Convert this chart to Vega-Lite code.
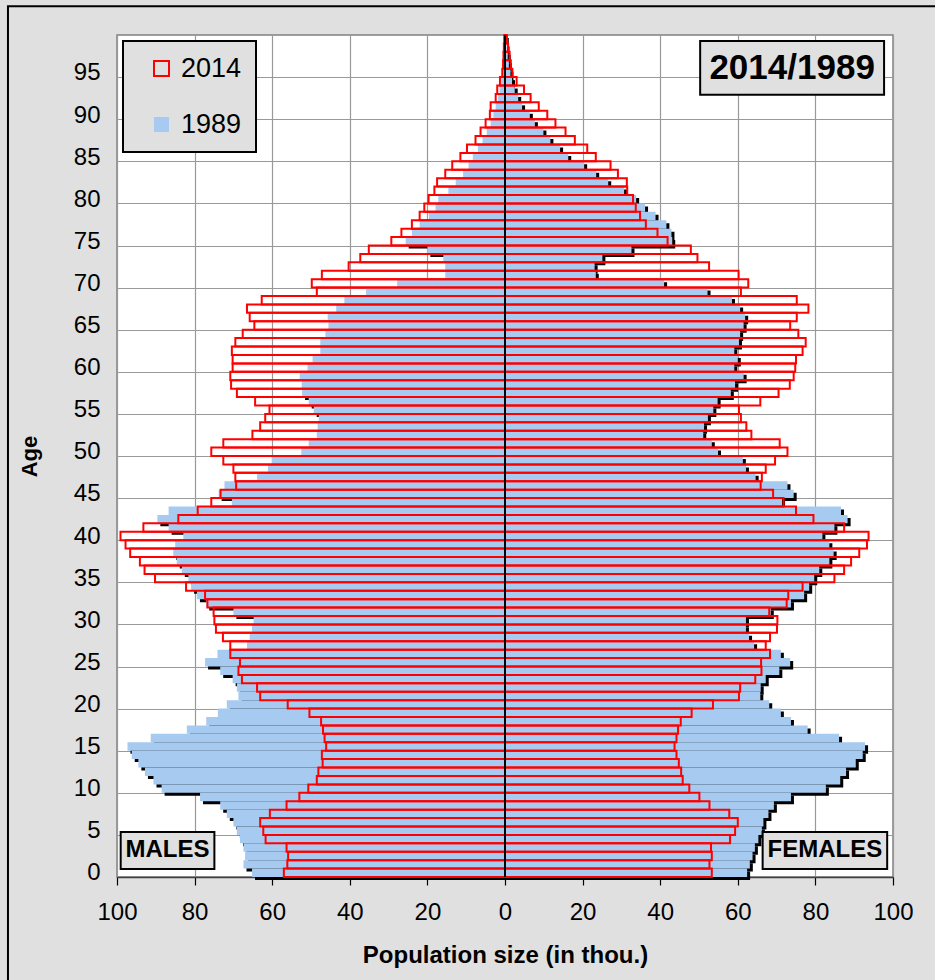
{
"$schema":"https://vega.github.io/schema/vega-lite/v6.json",
"width":776,"height":842,
"autosize":{"type":"none"},
"padding":{"left":117,"top":35,"right":42,"bottom":103},
"background":"#e0e0e0",
"config":{
 "view":{"fill":"white","stroke":"#808080","strokeWidth":1.5},
 "font":"Liberation Sans",
 "axis":{"labelFont":"Liberation Sans","titleFont":"Liberation Sans","labelColor":"black","titleColor":"black","gridColor":"#999999","gridWidth":1.2,"labelFlush":false}
},
"datasets":{"pop":[
{"age":0,"year":"1989","M":-65.2,"F":62.4},{"age":0,"year":"2014","M":-57.0,"F":53.3},
{"age":1,"year":"1989","M":-67.4,"F":63.1},{"age":1,"year":"2014","M":-56.1,"F":52.7},
{"age":2,"year":"1989","M":-67.0,"F":63.8},{"age":2,"year":"2014","M":-55.9,"F":53.3},
{"age":3,"year":"1989","M":-67.4,"F":64.4},{"age":3,"year":"2014","M":-56.3,"F":53.1},
{"age":4,"year":"1989","M":-68.3,"F":65.3},{"age":4,"year":"2014","M":-61.7,"F":58.0},
{"age":5,"year":"1989","M":-69.1,"F":66.2},{"age":5,"year":"2014","M":-62.3,"F":59.3},
{"age":6,"year":"1989","M":-70.0,"F":66.6},{"age":6,"year":"2014","M":-63.1,"F":60.0},
{"age":7,"year":"1989","M":-71.7,"F":67.9},{"age":7,"year":"2014","M":-60.6,"F":57.8},
{"age":8,"year":"1989","M":-73.4,"F":69.3},{"age":8,"year":"2014","M":-56.3,"F":52.7},
{"age":9,"year":"1989","M":-78.6,"F":73.7},{"age":9,"year":"2014","M":-53.0,"F":50.1},
{"age":10,"year":"1989","M":-88.5,"F":82.7},{"age":10,"year":"2014","M":-50.7,"F":47.5},
{"age":11,"year":"1989","M":-90.6,"F":86.4},{"age":11,"year":"2014","M":-48.5,"F":45.8},
{"age":12,"year":"1989","M":-92.8,"F":87.9},{"age":12,"year":"2014","M":-48.1,"F":45.4},
{"age":13,"year":"1989","M":-94.5,"F":90.4},{"age":13,"year":"2014","M":-47.0,"F":44.8},
{"age":14,"year":"1989","M":-96.2,"F":92.2},{"age":14,"year":"2014","M":-47.2,"F":44.2},
{"age":15,"year":"1989","M":-97.3,"F":92.8},{"age":15,"year":"2014","M":-46.1,"F":43.7},
{"age":16,"year":"1989","M":-91.3,"F":86.1},{"age":16,"year":"2014","M":-46.5,"F":44.2},
{"age":17,"year":"1989","M":-82.0,"F":78.0},{"age":17,"year":"2014","M":-46.9,"F":44.6},
{"age":18,"year":"1989","M":-77.0,"F":73.7},{"age":18,"year":"2014","M":-47.4,"F":45.3},
{"age":19,"year":"1989","M":-74.0,"F":71.1},{"age":19,"year":"2014","M":-50.4,"F":48.1},
{"age":20,"year":"1989","M":-71.7,"F":68.1},{"age":20,"year":"2014","M":-56.0,"F":53.6},
{"age":21,"year":"1989","M":-68.7,"F":65.8},{"age":21,"year":"2014","M":-63.1,"F":60.3},
{"age":22,"year":"1989","M":-69.1,"F":65.9},{"age":22,"year":"2014","M":-63.9,"F":60.6},
{"age":23,"year":"1989","M":-70.2,"F":67.2},{"age":23,"year":"2014","M":-67.8,"F":64.5},
{"age":24,"year":"1989","M":-73.4,"F":70.7},{"age":24,"year":"2014","M":-68.7,"F":66.1},
{"age":25,"year":"1989","M":-77.3,"F":73.5},{"age":25,"year":"2014","M":-68.3,"F":66.0},
{"age":26,"year":"1989","M":-74.1,"F":71.1},{"age":26,"year":"2014","M":-70.8,"F":68.3},
{"age":27,"year":"1989","M":-66.5,"F":64.2},{"age":27,"year":"2014","M":-70.8,"F":67.2},
{"age":28,"year":"1989","M":-65.8,"F":62.9},{"age":28,"year":"2014","M":-72.7,"F":68.3},
{"age":29,"year":"1989","M":-65.2,"F":62.1},{"age":29,"year":"2014","M":-74.5,"F":70.1},
{"age":30,"year":"1989","M":-64.8,"F":62.1},{"age":30,"year":"2014","M":-74.9,"F":70.2},
{"age":31,"year":"1989","M":-70.0,"F":68.5},{"age":31,"year":"2014","M":-75.1,"F":68.1},
{"age":32,"year":"1989","M":-77.0,"F":73.7},{"age":32,"year":"2014","M":-76.7,"F":72.6},
{"age":33,"year":"1989","M":-79.4,"F":77.1},{"age":33,"year":"2014","M":-77.3,"F":73.0},
{"age":34,"year":"1989","M":-80.9,"F":78.4},{"age":34,"year":"2014","M":-82.2,"F":76.7},
{"age":35,"year":"1989","M":-81.6,"F":79.7},{"age":35,"year":"2014","M":-90.2,"F":84.9},
{"age":36,"year":"1989","M":-83.3,"F":81.0},{"age":36,"year":"2014","M":-92.9,"F":87.4},
{"age":37,"year":"1989","M":-84.6,"F":83.6},{"age":37,"year":"2014","M":-94.1,"F":89.2},
{"age":38,"year":"1989","M":-85.5,"F":84.7},{"age":38,"year":"2014","M":-96.6,"F":91.3},
{"age":39,"year":"1989","M":-85.0,"F":83.6},{"age":39,"year":"2014","M":-97.8,"F":93.3},
{"age":40,"year":"1989","M":-82.9,"F":81.8},{"age":40,"year":"2014","M":-99.1,"F":93.7},
{"age":41,"year":"1989","M":-86.7,"F":84.9},{"age":41,"year":"2014","M":-93.2,"F":87.4},
{"age":42,"year":"1989","M":-89.6,"F":88.3},{"age":42,"year":"2014","M":-84.2,"F":79.5},
{"age":43,"year":"1989","M":-86.7,"F":86.6},{"age":43,"year":"2014","M":-79.2,"F":75.0},
{"age":44,"year":"1989","M":-70.4,"F":71.4},{"age":44,"year":"2014","M":-75.7,"F":71.8},
{"age":45,"year":"1989","M":-73.8,"F":74.4},{"age":45,"year":"2014","M":-73.3,"F":69.1},
{"age":46,"year":"1989","M":-72.3,"F":72.8},{"age":46,"year":"2014","M":-69.3,"F":65.9},
{"age":47,"year":"1989","M":-63.9,"F":64.6},{"age":47,"year":"2014","M":-69.5,"F":66.2},
{"age":48,"year":"1989","M":-61.1,"F":62.1},{"age":48,"year":"2014","M":-70.0,"F":67.2},
{"age":49,"year":"1989","M":-60.1,"F":61.3},{"age":49,"year":"2014","M":-72.6,"F":69.6},
{"age":50,"year":"1989","M":-52.5,"F":54.9},{"age":50,"year":"2014","M":-75.7,"F":72.8},
{"age":51,"year":"1989","M":-50.6,"F":53.3},{"age":51,"year":"2014","M":-72.6,"F":70.8},
{"age":52,"year":"1989","M":-48.5,"F":51.1},{"age":52,"year":"2014","M":-65.1,"F":63.5},
{"age":53,"year":"1989","M":-48.3,"F":51.3},{"age":53,"year":"2014","M":-63.1,"F":62.2},
{"age":54,"year":"1989","M":-48.0,"F":52.3},{"age":54,"year":"2014","M":-61.8,"F":60.8},
{"age":55,"year":"1989","M":-49.3,"F":53.7},{"age":55,"year":"2014","M":-60.7,"F":60.3},
{"age":56,"year":"1989","M":-50.6,"F":54.8},{"age":56,"year":"2014","M":-64.4,"F":65.8},
{"age":57,"year":"1989","M":-52.3,"F":58.2},{"age":57,"year":"2014","M":-69.1,"F":70.5},
{"age":58,"year":"1989","M":-52.4,"F":59.3},{"age":58,"year":"2014","M":-70.6,"F":73.4},
{"age":59,"year":"1989","M":-52.9,"F":61.5},{"age":59,"year":"2014","M":-70.8,"F":74.4},
{"age":60,"year":"1989","M":-50.9,"F":59.1},{"age":60,"year":"2014","M":-70.2,"F":74.8},
{"age":61,"year":"1989","M":-49.6,"F":60.0},{"age":61,"year":"2014","M":-70.2,"F":75.0},
{"age":62,"year":"1989","M":-47.6,"F":59.1},{"age":62,"year":"2014","M":-70.4,"F":76.7},
{"age":63,"year":"1989","M":-47.6,"F":60.3},{"age":63,"year":"2014","M":-69.5,"F":77.5},
{"age":64,"year":"1989","M":-46.3,"F":60.6},{"age":64,"year":"2014","M":-67.6,"F":75.6},
{"age":65,"year":"1989","M":-45.5,"F":61.5},{"age":65,"year":"2014","M":-64.6,"F":73.5},
{"age":66,"year":"1989","M":-45.7,"F":61.9},{"age":66,"year":"2014","M":-65.8,"F":75.2},
{"age":67,"year":"1989","M":-43.5,"F":60.6},{"age":67,"year":"2014","M":-66.5,"F":78.2},
{"age":68,"year":"1989","M":-41.4,"F":58.5},{"age":68,"year":"2014","M":-62.7,"F":75.2},
{"age":69,"year":"1989","M":-35.8,"F":52.2},{"age":69,"year":"2014","M":-48.5,"F":60.8},
{"age":70,"year":"1989","M":-27.8,"F":41.0},{"age":70,"year":"2014","M":-49.8,"F":62.7},
{"age":71,"year":"1989","M":-15.4,"F":23.4},{"age":71,"year":"2014","M":-47.2,"F":60.2},
{"age":72,"year":"1989","M":-15.4,"F":23.1},{"age":72,"year":"2014","M":-40.3,"F":52.6},
{"age":73,"year":"1989","M":-15.9,"F":25.1},{"age":73,"year":"2014","M":-37.3,"F":49.6},
{"age":74,"year":"1989","M":-20.0,"F":32.6},{"age":74,"year":"2014","M":-35.1,"F":47.9},
{"age":75,"year":"1989","M":-25.6,"F":43.1},{"age":75,"year":"2014","M":-29.3,"F":41.9},
{"age":76,"year":"1989","M":-24.0,"F":42.9},{"age":76,"year":"2014","M":-26.7,"F":39.3},
{"age":77,"year":"1989","M":-22.0,"F":41.6},{"age":77,"year":"2014","M":-24.0,"F":36.3},
{"age":78,"year":"1989","M":-19.6,"F":38.8},{"age":78,"year":"2014","M":-22.0,"F":34.8},
{"age":79,"year":"1989","M":-17.9,"F":36.1},{"age":79,"year":"2014","M":-20.8,"F":33.7},
{"age":80,"year":"1989","M":-17.2,"F":33.8},{"age":80,"year":"2014","M":-19.7,"F":33.0},
{"age":81,"year":"1989","M":-14.6,"F":30.7},{"age":81,"year":"2014","M":-18.2,"F":31.5},
{"age":82,"year":"1989","M":-12.7,"F":26.6},{"age":82,"year":"2014","M":-17.5,"F":31.4},
{"age":83,"year":"1989","M":-10.8,"F":23.5},{"age":83,"year":"2014","M":-15.4,"F":29.1},
{"age":84,"year":"1989","M":-9.4,"F":20.4},{"age":84,"year":"2014","M":-13.6,"F":27.2},
{"age":85,"year":"1989","M":-8.3,"F":16.3},{"age":85,"year":"2014","M":-11.5,"F":23.4},
{"age":86,"year":"1989","M":-7.0,"F":14.2},{"age":86,"year":"2014","M":-9.8,"F":21.2},
{"age":87,"year":"1989","M":-5.8,"F":11.7},{"age":87,"year":"2014","M":-7.6,"F":18.0},
{"age":88,"year":"1989","M":-4.7,"F":9.9},{"age":88,"year":"2014","M":-6.3,"F":15.6},
{"age":89,"year":"1989","M":-3.7,"F":7.7},{"age":89,"year":"2014","M":-5.0,"F":13.0},
{"age":90,"year":"1989","M":-3.0,"F":6.4},{"age":90,"year":"2014","M":-3.9,"F":10.9},
{"age":91,"year":"1989","M":-2.4,"F":4.4},{"age":91,"year":"2014","M":-3.7,"F":8.7},
{"age":92,"year":"1989","M":-1.8,"F":3.4},{"age":92,"year":"2014","M":-2.4,"F":6.6},
{"age":93,"year":"1989","M":-1.4,"F":2.5},{"age":93,"year":"2014","M":-2.0,"F":4.9},
{"age":94,"year":"1989","M":-1.0,"F":1.8},{"age":94,"year":"2014","M":-1.3,"F":3.0},
{"age":95,"year":"1989","M":-0.7,"F":1.4},{"age":95,"year":"2014","M":-0.7,"F":1.9},
{"age":96,"year":"1989","M":-0.5,"F":1.0},{"age":96,"year":"2014","M":-0.5,"F":1.5},
{"age":97,"year":"1989","M":-0.3,"F":0.7},{"age":97,"year":"2014","M":-0.4,"F":1.2},
{"age":98,"year":"1989","M":-0.2,"F":0.4},{"age":98,"year":"2014","M":-0.3,"F":0.8},
{"age":99,"year":"1989","M":-0.1,"F":0.2},{"age":99,"year":"2014","M":-0.2,"F":0.5}
]},
"layer":[
 {"data":{"name":"pop"},
  "transform":[{"fold":["M","F"],"as":["sex","value"]},{"filter":"datum.year == '1989'"}],
  "mark":{"type":"bar","orient":"horizontal","height":8.42,"color":"black","xOffset":3,"x2Offset":3,"yOffset":-1.21},
  "encoding":{
   "y":{"field":"age","type":"quantitative","scale":{"domain":[0,100],"nice":false,"zero":false,"padding":0},
    "axis":{"values":[0,5,10,15,20,25,30,35,40,45,50,55,60,65,70,75,80,85,90,95],"grid":true,"ticks":false,"tickSize":0,"domain":false,"labelOffset":-4.2,"labelFontSize":24,"labelPadding":17,"labelAlign":"right","labelBaseline":"middle","labelFlush":false,"format":"d","title":"Age","titleFontSize":22,"titleFontWeight":"bold","titlePadding":32}},
   "x":{"field":"value","type":"quantitative","scale":{"domain":[-100,100],"nice":false,"padding":0},
    "axis":{"values":[-100,-80,-60,-40,-20,0,20,40,60,80,100],"grid":true,"ticks":true,"tickSize":8,"tickColor":"black","tickWidth":1.2,"domain":true,"domainColor":"#404040","domainWidth":1.5,"labelFlush":false,"labelExpr":"'' + abs(datum.value)","labelFontSize":24,"labelPadding":15,"title":"Population size (in thou.)","titleFontSize":24,"titleFontWeight":"bold","titlePadding":19}}}},
 {"data":{"name":"pop"},
  "transform":[{"fold":["M","F"],"as":["sex","value"]},{"filter":"datum.year == '1989'"}],
  "mark":{"type":"bar","orient":"horizontal","height":8.42,"yOffset":-4.21},
  "encoding":{
   "y":{"field":"age","type":"quantitative"},
   "x":{"field":"value","type":"quantitative"},
   "fill":{"field":"year","type":"nominal","scale":{"domain":["2014","1989"],"range":["transparent","#a6caf0"]},
    "legend":{"title":null,"orient":"top-left","offset":6,"fillColor":"#e0e0e0","strokeColor":"black","padding":14,"symbolType":"square","symbolSize":225,"symbolOffset":11,"symbolStrokeWidth":2,"labelFontSize":27,"labelFont":"Liberation Sans","labelColor":"black","labelOffset":6,"rowPadding":28,"encode":{"legend":{"update":{"strokeWidth":{"value":2}}}}}},
   "stroke":{"field":"year","type":"nominal","scale":{"domain":["2014","1989"],"range":["#ff0000","transparent"]},
    "legend":{"title":null,"orient":"top-left","offset":6,"fillColor":"#e0e0e0","strokeColor":"black","padding":14,"symbolType":"square","symbolSize":225,"symbolOffset":11,"symbolStrokeWidth":2,"labelFontSize":27,"labelFont":"Liberation Sans","labelColor":"black","labelOffset":6,"rowPadding":28,"encode":{"legend":{"update":{"strokeWidth":{"value":2}}}}}}}},
 {"data":{"name":"pop"},
  "transform":[{"fold":["M","F"],"as":["sex","value"]},{"filter":"datum.year == '2014'"}],
  "mark":{"type":"bar","orient":"horizontal","height":8.42,"yOffset":-4.21,"strokeWidth":2},
  "encoding":{
   "y":{"field":"age","type":"quantitative"},
   "x":{"field":"value","type":"quantitative"},
   "fill":{"field":"year","type":"nominal"},
   "stroke":{"field":"year","type":"nominal"}}},
 {"data":{"values":[{}]},
  "mark":{"type":"rule","color":"black","strokeWidth":2},
  "encoding":{"x":{"datum":0}}},
 {"data":{"values":[{}]},
  "mark":{"type":"rect","fill":"#e0e0e0","stroke":"black","strokeWidth":2},
  "encoding":{"x":{"datum":50.3},"x2":{"datum":97.7},"y":{"datum":99.3},"y2":{"datum":92.9}}},
 {"data":{"values":[{}]},
  "mark":{"type":"text","text":"2014/1989","fontSize":35,"fontWeight":"bold","font":"Liberation Sans","color":"black","align":"center","baseline":"middle"},
  "encoding":{"x":{"datum":74},"y":{"datum":96.1}}},
 {"data":{"values":[{}]},
  "mark":{"type":"rect","fill":"#e0e0e0","stroke":"black","strokeWidth":2},
  "encoding":{"x":{"datum":-99.05},"x2":{"datum":-74.9},"y":{"datum":5.34},"y2":{"datum":0.95}}},
 {"data":{"values":[{}]},
  "mark":{"type":"text","text":"MALES","fontSize":24,"fontWeight":"bold","font":"Liberation Sans","color":"black","align":"center","baseline":"middle"},
  "encoding":{"x":{"datum":-87},"y":{"datum":3.15}}},
 {"data":{"values":[{}]},
  "mark":{"type":"rect","fill":"#e0e0e0","stroke":"black","strokeWidth":2},
  "encoding":{"x":{"datum":66.4},"x2":{"datum":98.5},"y":{"datum":5.34},"y2":{"datum":0.95}}},
 {"data":{"values":[{}]},
  "mark":{"type":"text","text":"FEMALES","fontSize":24,"fontWeight":"bold","font":"Liberation Sans","color":"black","align":"center","baseline":"middle"},
  "encoding":{"x":{"datum":82.45},"y":{"datum":3.15}}},
 {"data":{"values":[{}]},
  "mark":{"type":"rect","filled":false,"color":"black","strokeWidth":2,"clip":false},
  "encoding":{"x":{"datum":-128.1},"x2":{"datum":130},"y":{"datum":103.4},"y2":{"datum":-15}}}
]
}
